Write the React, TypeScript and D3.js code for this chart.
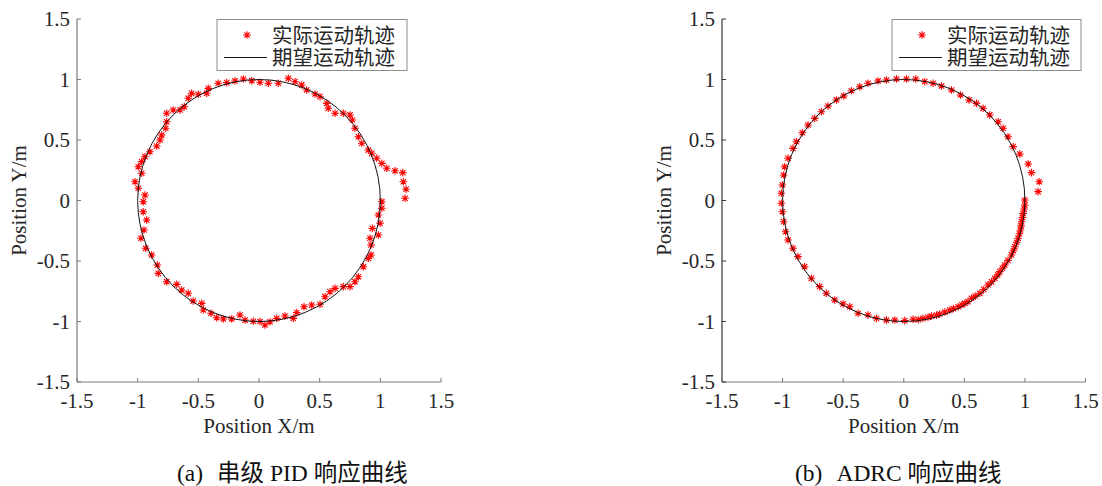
import React from "react";
import * as d3 from "d3";

const tickValues = [-1.5, -1, -0.5, 0, 0.5, 1, 1.5];
const tickLabels = ["-1.5", "-1", "-0.5", "0", "0.5", "1", "1.5"];
const legendLabels = ["实际运动轨迹", "期望运动轨迹"];
const xLabel = "Position X/m";
const yLabel = "Position Y/m";
const captionTags = ["(a)", "(b)"];
const captionNames = ["串级 PID 响应曲线", "ADRC 响应曲线"];

const pidX = [1.204, 1.212, 1.19, 1.185, 1.121, 1.053, 1.012, 0.97, 0.929, 0.901, 0.847, 0.819, 0.791, 0.769, 0.75, 0.695, 0.627, 0.571, 0.558, 0.503, 0.462, 0.393, 0.352, 0.297, 0.242, 0.159, 0.077, 0.008, -0.06, -0.129, -0.198, -0.266, -0.336, -0.418, -0.431, -0.5, -0.555, -0.583, -0.616, -0.651, -0.707, -0.761, -0.761, -0.769, -0.802, -0.816, -0.843, -0.899, -0.94, -0.967, -0.995, -0.967, -1.022, -0.995, -0.94, -0.954, -0.954, -0.926, -0.948, -0.973, -0.934, -0.885, -0.838, -0.83, -0.761, -0.678, -0.637, -0.583, -0.542, -0.472, -0.459, -0.396, -0.349, -0.294, -0.225, -0.157, -0.115, -0.047, 0.008, 0.049, 0.091, 0.146, 0.214, 0.283, 0.311, 0.371, 0.434, 0.503, 0.544, 0.585, 0.627, 0.695, 0.75, 0.791, 0.819, 0.86, 0.901, 0.923, 0.923, 0.915, 0.984, 0.934, 0.998, 0.984, 1.012, 1.012];
const pidY = [0.018, 0.093, 0.155, 0.23, 0.246, 0.266, 0.307, 0.349, 0.39, 0.417, 0.473, 0.527, 0.597, 0.665, 0.707, 0.721, 0.721, 0.762, 0.803, 0.858, 0.88, 0.913, 0.955, 0.982, 1.01, 0.969, 0.969, 0.977, 0.99, 1.004, 0.988, 0.974, 0.969, 0.927, 0.886, 0.878, 0.886, 0.845, 0.775, 0.748, 0.748, 0.721, 0.651, 0.597, 0.541, 0.5, 0.45, 0.403, 0.362, 0.321, 0.279, 0.225, 0.155, 0.101, 0.045, -0.01, -0.093, -0.161, -0.244, -0.312, -0.395, -0.45, -0.533, -0.602, -0.671, -0.693, -0.74, -0.767, -0.831, -0.85, -0.905, -0.932, -0.969, -0.979, -0.979, -0.946, -0.988, -0.998, -1.0, -1.029, -1.002, -0.974, -0.955, -0.974, -0.927, -0.878, -0.864, -0.858, -0.795, -0.754, -0.726, -0.712, -0.712, -0.671, -0.63, -0.547, -0.478, -0.45, -0.368, -0.312, -0.285, -0.23, -0.188, -0.12, -0.064, -0.01];

const adrcX = [1.109, 1.118, 1.054, 1.027, 0.958, 0.903, 0.861, 0.82, 0.779, 0.71, 0.655, 0.6, 0.539, 0.468, 0.394, 0.311, 0.242, 0.173, 0.099, 0.022, -0.06, -0.143, -0.212, -0.295, -0.363, -0.432, -0.495, -0.556, -0.625, -0.68, -0.735, -0.79, -0.837, -0.886, -0.914, -0.955, -0.983, -0.991, -1.002, -1.01, -1.01, -1.002, -0.991, -0.975, -0.955, -0.914, -0.873, -0.818, -0.762, -0.694, -0.639, -0.57, -0.501, -0.446, -0.377, -0.295, -0.225, -0.143, -0.074, 0.008, 0.077, 0.12, 0.159, 0.2, 0.229, 0.27, 0.297, 0.339, 0.38, 0.41, 0.449, 0.48, 0.504, 0.53, 0.559, 0.59, 0.628, 0.66, 0.696, 0.725, 0.751, 0.775, 0.793, 0.815, 0.834, 0.86, 0.889, 0.905, 0.917, 0.932, 0.944, 0.955, 0.963, 0.968, 0.972, 0.98, 0.985, 0.993, 0.999, 0.999];
const adrcY = [0.073, 0.155, 0.23, 0.302, 0.384, 0.445, 0.527, 0.597, 0.651, 0.707, 0.762, 0.803, 0.831, 0.872, 0.913, 0.946, 0.969, 0.982, 1.004, 1.004, 1.004, 0.996, 0.988, 0.969, 0.94, 0.907, 0.864, 0.831, 0.781, 0.734, 0.679, 0.624, 0.56, 0.486, 0.431, 0.349, 0.279, 0.211, 0.128, 0.06, -0.023, -0.093, -0.175, -0.258, -0.326, -0.395, -0.464, -0.547, -0.643, -0.712, -0.767, -0.822, -0.855, -0.878, -0.932, -0.946, -0.974, -0.988, -0.988, -0.993, -0.982, -0.985, -0.974, -0.965, -0.955, -0.948, -0.938, -0.922, -0.905, -0.893, -0.878, -0.862, -0.85, -0.836, -0.808, -0.79, -0.767, -0.735, -0.698, -0.672, -0.643, -0.615, -0.588, -0.56, -0.533, -0.495, -0.45, -0.415, -0.382, -0.345, -0.312, -0.275, -0.244, -0.21, -0.175, -0.14, -0.106, -0.07, -0.037, 0.004];

const SERIF = "Liberation Serif, Times New Roman, serif";
const MIXED = "Liberation Serif, Noto Sans CJK SC, serif";
const CJK = "Noto Sans CJK SC, sans-serif";
const STAR = "M-3.8,0H3.8M0,-3.8V3.8M-2.7,-2.7L2.7,2.7M-2.7,2.7L2.7,-2.7";

type PanelProps = {
  left: number;
  right: number;
  xs: number[];
  ys: number[];
  tag: string;
  name: string;
  capX: number;
  legLeft: number;
  legW: number;
  yAxisColor: string;
  xAxisColor: string;
  yLabelX: number;
};

function Panel(p: PanelProps) {
  const x = d3.scaleLinear().domain([-1.5, 1.5]).range([p.left, p.right]);
  const y = d3.scaleLinear().domain([-1.5, 1.5]).range([382, 19]);
  const top = y(1.5);
  const bottom = y(-1.5);
  const tickCol = "#262626";
  const lg = p.legLeft;
  return (
    <g>
      <line x1={p.left} x2={p.right} y1={bottom} y2={bottom} stroke={p.xAxisColor} strokeWidth={1.2} />
      <line x1={p.left} x2={p.left} y1={top} y2={bottom} stroke={p.yAxisColor} strokeWidth={1.2} />
      {tickValues.map((t, i) => (
        <g key={"xt" + i}>
          <line x1={x(t)} x2={x(t)} y1={bottom} y2={bottom - 4} stroke={p.xAxisColor} strokeWidth={1} />
          <text x={x(t)} y={bottom + 26} textAnchor="middle" fontFamily={SERIF} fontSize={21} fill={tickCol}>
            {tickLabels[i]}
          </text>
        </g>
      ))}
      {tickValues.map((t, i) => (
        <g key={"yt" + i}>
          <line x1={p.left} x2={p.left + 4} y1={y(t)} y2={y(t)} stroke={p.yAxisColor} strokeWidth={1} />
          <text x={p.left - 7} y={y(t) + 7} textAnchor="end" fontFamily={SERIF} fontSize={21} fill={tickCol}>
            {tickLabels[i]}
          </text>
        </g>
      ))}
      <text x={x(0)} y={433} textAnchor="middle" fontFamily={SERIF} fontSize={21} fill={tickCol}>
        {xLabel}
      </text>
      <text
        transform={`translate(${p.yLabelX},${y(0)}) rotate(-90)`}
        textAnchor="middle"
        fontFamily={SERIF}
        fontSize={21}
        fill={tickCol}
      >
        {yLabel}
      </text>
      <g stroke="#ff0000" strokeWidth={1.1} fill="none">
        {p.xs.map((v, i) => (
          <path key={i} d={STAR} transform={`translate(${x(v)},${y(p.ys[i])})`} />
        ))}
      </g>
      <ellipse
        cx={x(0)}
        cy={y(0)}
        rx={x(1) - x(0)}
        ry={y(0) - y(1)}
        fill="none"
        stroke="#151515"
        strokeWidth={1}
      />
      <rect x={lg} y={19.5} width={p.legW} height={51} fill="#fff" stroke="#8c8c8c" strokeWidth={1} />
      <path d={STAR} transform={`translate(${lg + 30},35)`} stroke="#ff0000" strokeWidth={1.1} fill="none" />
      <line x1={lg + 7} x2={lg + 50} y1={57.5} y2={57.5} stroke="#151515" strokeWidth={1} />
      <text x={lg + 55} y={42.5} fontFamily={CJK} fontSize={20.5} fill={tickCol}>
        {legendLabels[0]}
      </text>
      <text x={lg + 55} y={65} fontFamily={CJK} fontSize={20.5} fill={tickCol}>
        {legendLabels[1]}
      </text>
      <text x={p.capX} y={481} fontFamily={MIXED} fontSize={23.5} fill="#111">
        <tspan>{p.tag}</tspan>
        <tspan dx={14}>{p.name}</tspan>
      </text>
    </g>
  );
}

export default function App() {
  return (
    <svg
      width={1102}
      height={486}
      style={{ position: "absolute", left: 0, top: 0, background: "#fff" }}
    >
      <rect x={0} y={0} width={1102} height={486} fill="#fff" />
      <Panel
        left={77}
        right={441}
        xs={pidX}
        ys={pidY}
        tag={captionTags[0]}
        name={captionNames[0]}
        capX={177}
        legLeft={217}
        legW={190}
        yAxisColor="#7a7a7a"
        xAxisColor="#7a7a7a"
        yLabelX={26}
      />
      <Panel
        left={722}
        right={1085.5}
        xs={adrcX}
        ys={adrcY}
        tag={captionTags[1]}
        name={captionNames[1]}
        capX={795}
        legLeft={892}
        legW={189}
        yAxisColor="#333"
        xAxisColor="#7a7a7a"
        yLabelX={671}
      />
    </svg>
  );
}
